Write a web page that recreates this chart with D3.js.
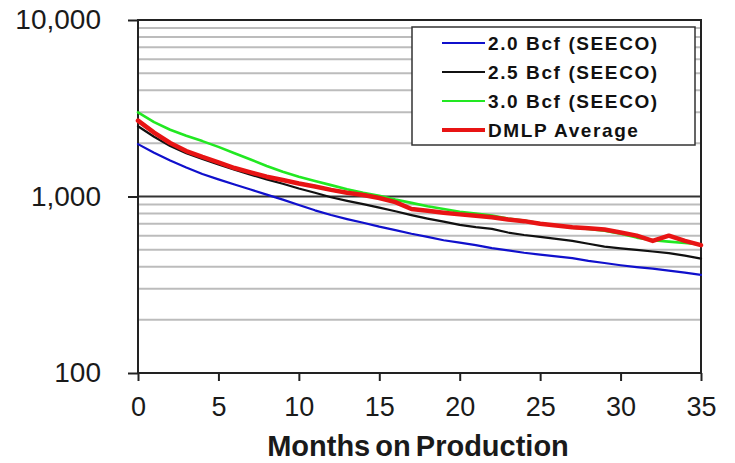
<!DOCTYPE html>
<html><head><meta charset="utf-8">
<script src="https://cdn.jsdelivr.net/npm/d3@7"></script>
<style>
html,body{margin:0;padding:0;background:#fff;}
svg{display:block;}
text{font-family:"Liberation Sans",Arial,sans-serif;}
</style></head>
<body>
<svg id="chart" width="735" height="463"></svg>
<script>
const months = d3.range(0, 36);
const seriesNames = ["2.0 Bcf (SEECO)", "2.5 Bcf (SEECO)", "3.0 Bcf (SEECO)", "DMLP Average"];
const blue20 = [1980,1770,1600,1460,1340,1250,1170,1095,1025,960,895,835,785,745,710,675,645,615,590,565,548,530,510,495,480,468,458,448,432,420,408,398,390,380,370,360];
const black25 = [2500,2180,1930,1760,1630,1520,1420,1330,1250,1180,1110,1050,990,945,905,865,825,785,750,720,690,670,655,625,605,590,575,560,540,520,508,498,488,478,462,445];
const green30 = [3000,2640,2390,2210,2060,1910,1760,1620,1490,1380,1295,1225,1160,1100,1050,1010,960,920,880,850,820,800,780,750,730,705,685,665,655,640,615,585,565,555,545,535];
const redDMLP = [2690,2300,2010,1810,1675,1560,1450,1370,1295,1240,1185,1140,1090,1050,1020,980,930,850,830,810,792,778,762,740,725,700,685,670,660,650,625,600,560,600,560,530];
const yTicks = [100, 1000, 10000];
const xTicks = [0, 5, 10, 15, 20, 25, 30, 35];
const minorTicks = [200,300,400,500,600,700,800,900,2000,3000,4000,5000,6000,7000,8000,9000];

const svg = d3.select("#chart");
const L = 138, R = 701, T = 20, B = 373;
const x = d3.scaleLinear().domain([0, 35]).range([L, R]);
const y = d3.scaleLog().domain([100, 10000]).range([B, T]);

// minor gridlines
svg.append("g").selectAll("line").data(minorTicks).join("line")
  .attr("x1", L).attr("x2", R)
  .attr("y1", d => y(d)).attr("y2", d => y(d))
  .attr("stroke", "#bcbcbc").attr("stroke-width", 2);

// major gridline at 1000
svg.append("line").attr("x1", L).attr("x2", R)
  .attr("y1", y(1000)).attr("y2", y(1000))
  .attr("stroke", "#333").attr("stroke-width", 2);

// frame
svg.append("rect").attr("x", L).attr("y", T).attr("width", R - L).attr("height", B - T)
  .attr("fill", "none").attr("stroke", "#222").attr("stroke-width", 2);

// y axis
const yAxis = svg.append("g").attr("transform", `translate(${L},0)`)
  .call(d3.axisLeft(y).tickValues(yTicks).tickFormat(d3.format(",")).tickSize(10).tickPadding(27));
yAxis.select(".domain").remove();
yAxis.selectAll("line").attr("stroke", "#222").attr("stroke-width", 2);
yAxis.selectAll("text").attr("font-size", 28).attr("fill", "#1a1a1a").attr("font-family", "Liberation Sans, Arial, sans-serif");

// x axis
const xAxis = svg.append("g").attr("transform", `translate(0,${B})`)
  .call(d3.axisBottom(x).tickValues(xTicks).tickSize(8).tickPadding(16));
xAxis.select(".domain").remove();
xAxis.selectAll("line").attr("stroke", "#222").attr("stroke-width", 2);
xAxis.selectAll("text").attr("font-size", 27).attr("fill", "#1a1a1a").attr("font-family", "Liberation Sans, Arial, sans-serif");

svg.append("text").attr("x", 418).attr("y", 456).attr("text-anchor", "middle")
  .attr("font-size", 29).attr("font-weight", "bold").attr("fill", "#1a1a1a")
  .attr("word-spacing", -3)
  .text("Months on Production");

// lines
const series = [
  {name: seriesNames[0], values: blue20, color: "#1010cc", w: 2.2},
  {name: seriesNames[1], values: black25, color: "#111", w: 2.2},
  {name: seriesNames[2], values: green30, color: "#22e822", w: 2.6},
  {name: seriesNames[3], values: redDMLP, color: "#e81414", w: 4.5}
];
const line = d3.line().x((d, i) => x(months[i])).y(d => y(d));
svg.append("g").selectAll("path").data(series).join("path")
  .attr("d", d => line(d.values)).attr("fill", "none")
  .attr("stroke", d => d.color).attr("stroke-width", d => d.w)
  .attr("stroke-linejoin", "round").attr("stroke-linecap", "round");

// legend
const lg = svg.append("g");
lg.append("rect").attr("x", 412).attr("y", 27).attr("width", 283).attr("height", 118)
  .attr("fill", "#fff").attr("stroke", "#333").attr("stroke-width", 1.5);
const rows = lg.selectAll("g.row").data(series).join("g").attr("class", "row")
  .attr("transform", (d, i) => `translate(0,${43 + i * 29})`);
rows.append("line").attr("x1", 442).attr("x2", 485).attr("y1", 0).attr("y2", 0)
  .attr("stroke", d => d.color).attr("stroke-width", (d, i) => i === 3 ? 4 : 2.2);
rows.append("text").attr("x", 488).attr("y", 7)
  .attr("font-size", 19).attr("font-weight", "bold").attr("letter-spacing", 1.6)
  .attr("fill", "#111").text(d => d.name);
</script>
</body></html>
